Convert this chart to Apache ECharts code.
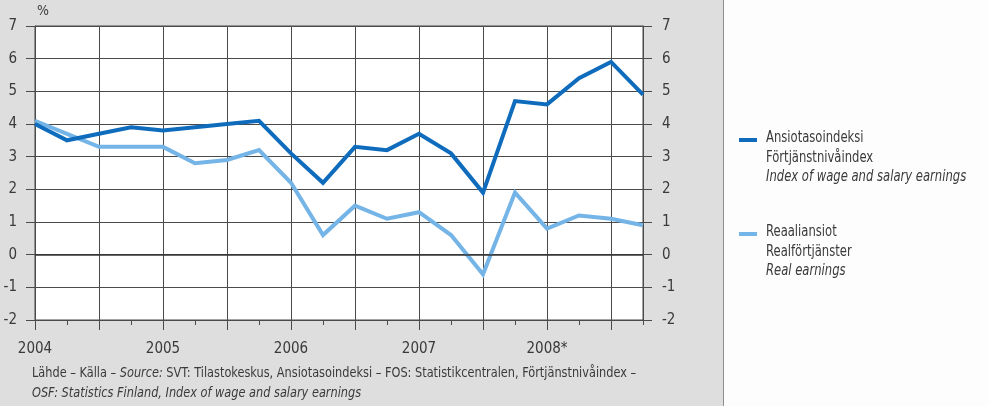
<!DOCTYPE html>
<html>
<head>
<meta charset="utf-8">
<script src="https://cdn.jsdelivr.net/npm/echarts@6/dist/echarts.min.js"></script>
<style>
html,body{margin:0;padding:0;background:#fff;}
#c{width:989px;height:406px;}
</style>
</head>
<body>
<div id="c"></div>
<script>
// Quarterly data 2004Q1 .. 2008Q4
const quarters = ['2004Q1','2004Q2','2004Q3','2004Q4','2005Q1','2005Q2','2005Q3','2005Q4','2006Q1','2006Q2','2006Q3','2006Q4','2007Q1','2007Q2','2007Q3','2007Q4','2008Q1','2008Q2','2008Q3','2008Q4'];
const yearLabels = {'2004Q1':'2004','2005Q1':'2005','2006Q1':'2006','2007Q1':'2007','2008Q1':'2008*'};
const wageIndex = [4.0, 3.5, 3.7, 3.9, 3.8, 3.9, 4.0, 4.1, 3.1, 2.2, 3.3, 3.2, 3.7, 3.1, 1.9, 4.7, 4.6, 5.4, 5.9, 4.9];
const realEarnings = [4.1, 3.7, 3.3, 3.3, 3.3, 2.8, 2.9, 3.2, 2.2, 0.6, 1.5, 1.1, 1.3, 0.6, -0.6, 1.9, 0.8, 1.2, 1.1, 0.9];
const yTicks = [-2, 7, 1];
const seriesNames = [
  ['Ansiotasoindeksi', 'Förtjänstnivåindex', 'Index of wage and salary earnings'],
  ['Reaaliansiot', 'Realförtjänster', 'Real earnings']
];
const sourceLine1 = ['Lähde – Källa – ', 'Source:', ' SVT: Tilastokeskus, Ansiotasoindeksi – FOS: Statistikcentralen, Förtjänstnivåindex –'];
const sourceLine2 = 'OSF: Statistics Finland, Index of wage and salary earnings';

const FONT = '"Liberation Sans Narrow", "DejaVu Sans Condensed", "Roboto", sans-serif';
const DARK = '#0f6cbd';
const LIGHT = '#74b4e6';
const GRID = '#4a4a4a';
const TXT = '#3a3a3a';

const chart = echarts.init(document.getElementById('c'), null, {renderer: 'canvas'});

const yAxisBase = {
  type: 'value', min: yTicks[0], max: yTicks[1], interval: yTicks[2],
  axisLine: {show: true, lineStyle: {color: GRID, width: 1}},
  axisTick: {show: true, length: 9, lineStyle: {color: GRID}},
  axisLabel: {fontFamily: FONT, fontSize: 15, color: TXT, margin: 18},
  splitLine: {show: true, lineStyle: {color: GRID, width: 1}}
};

function legendGroup(names, color, top) {
  const f = '15px ' + FONT;
  return {
    type: 'group', left: 739, top: top,
    children: [
      {type: 'rect', shape: {x: 0, y: 7, width: 18, height: 4}, style: {fill: color}},
      {type: 'text', x: 27, y: 0, scaleX: 0.86, style: {text: names[0], font: f, fill: TXT}},
      {type: 'text', x: 27, y: 19.5, scaleX: 0.86, style: {text: names[1], font: f, fill: TXT}},
      {type: 'text', x: 27, y: 39, scaleX: 0.86, style: {text: names[2], font: 'italic ' + f, fill: TXT}}
    ]
  };
}

chart.setOption({
  animation: false,
  backgroundColor: '#fdfdfd',
  grid: {left: 35, right: 346, top: 26, bottom: 86, containLabel: false, show: true, backgroundColor: '#ffffff', borderColor: GRID, borderWidth: 1},
  xAxis: [
    {
      type: 'category', data: quarters, boundaryGap: false, position: 'bottom',
      axisLine: {show: true, onZero: false, lineStyle: {color: GRID}},
      axisTick: {show: true, length: 5, interval: 0, lineStyle: {color: GRID}},
      axisLabel: {
        show: true, interval: 0, margin: 22, fontFamily: FONT, fontSize: 15, color: TXT,
        formatter: function (v) { return yearLabels[v] || ''; }
      },
      splitLine: {show: true, interval: function (i) { return i % 2 === 0; }, lineStyle: {color: GRID, width: 1}}
    },
    {
      type: 'category', data: quarters, boundaryGap: false, position: 'bottom',
      axisLine: {show: false, onZero: false},
      axisTick: {show: true, length: 10, interval: function (i) { return i % 2 === 0; }, lineStyle: {color: GRID}},
      axisLabel: {show: false},
      splitLine: {show: false}
    }
  ],
  yAxis: [
    Object.assign({}, yAxisBase, {position: 'left'}),
    Object.assign({}, yAxisBase, {position: 'right', axisLabel: {fontFamily: FONT, fontSize: 15, color: TXT, margin: 19}})
  ],
  graphic: [
    {type: 'rect', left: 0, top: 0, z: -10, shape: {width: 723, height: 406}, style: {fill: '#dedede'}},
    {type: 'rect', left: 723, top: 0, z: -10, shape: {width: 1, height: 406}, style: {fill: '#8f8f8f'}},
    {type: 'text', left: 37, top: 4, style: {text: '%', font: '14px ' + FONT, fill: TXT}},
    legendGroup(seriesNames[0], DARK, 131),
    legendGroup(seriesNames[1], LIGHT, 225),
    {
      type: 'text', x: 32, y: 363, scaleX: 0.9,
      style: {
        text: '{n|' + sourceLine1[0] + '}{i|' + sourceLine1[1] + '}{n|' + sourceLine1[2] + '}\n{i|' + sourceLine2 + '}',
        rich: {
          n: {font: '14px ' + FONT, fill: TXT, lineHeight: 20},
          i: {font: 'italic 14px ' + FONT, fill: TXT, lineHeight: 20}
        }
      }
    }
  ],
  series: [
    {
      name: 'zero', type: 'line', data: [], z: 1, silent: true,
      markLine: {silent: true, symbol: 'none', label: {show: false}, lineStyle: {color: '#333', width: 1.6, type: 'solid'}, data: [{yAxis: 0}]}
    },
    {
      name: seriesNames[1][0], type: 'line', data: realEarnings, symbol: 'none', z: 3,
      lineStyle: {color: LIGHT, width: 4, join: 'miter'}
    },
    {
      name: seriesNames[0][0], type: 'line', data: wageIndex, symbol: 'none', z: 4,
      lineStyle: {color: DARK, width: 4, join: 'miter'}
    }
  ]
});
</script>
</body>
</html>
